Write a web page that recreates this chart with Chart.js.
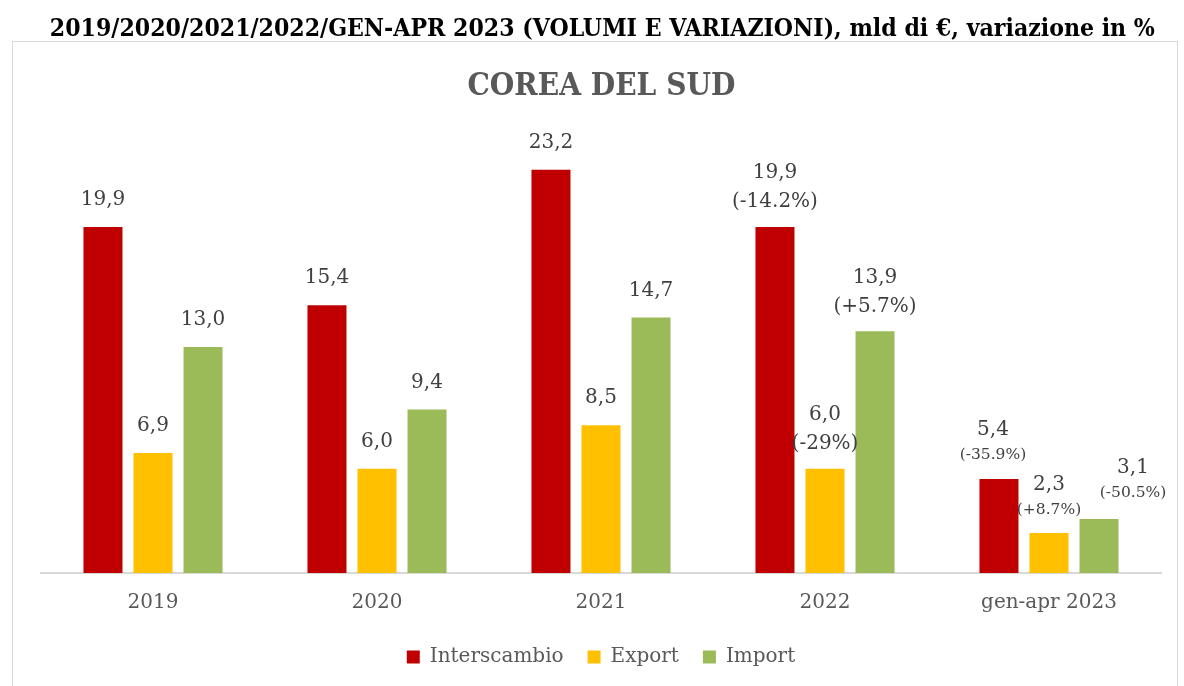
<!DOCTYPE html>
<html>
  <head>
    <title>Corea del Sud</title>
    <script src="https://cdn.jsdelivr.net/npm/chart.js@4.4.0/dist/chart.umd.min.js"></script>
    <style>
      body { margin: 0; background: #fff; width: 1184px; height: 686px; overflow: hidden; position: relative; }
      .head { position: absolute; left: 0; text-align: center; white-space: nowrap; z-index: 1; }
      .head span { display: inline-block; transform-origin: 50% 50%; }
      #title { top: 13px; width: 1204px; font: bold 25px 'DejaVu Serif Condensed', 'DejaVu Serif', serif; line-height: 30px; color: #000; }
      #sub { top: 64px; width: 1202px; font: bold 32px 'DejaVu Serif', serif; line-height: 40px; color: #595959; }
      #box { position: absolute; left: 12px; top: 41px; width: 1166px; height: 660px; border: 1px solid #d9d9d9; box-sizing: border-box; }
    </style>
  </head>

  <body>
    <div class="head" id="title"><span>2019/2020/2021/2022/GEN-APR 2023 (VOLUMI E VARIAZIONI), mld di €, variazione in %</span></div>
    <div class="head" id="sub"><span>COREA DEL SUD</span></div>
    <div id="box">
      <canvas id="canvas"></canvas>
    </div>
    <script>
      const years = ['2019', '2020', '2021', '2022', 'gen-apr 2023'];
      const interscambio = [19.9, 15.4, 23.2, 19.9, 5.4];
      const exportVals = [6.9, 6.0, 8.5, 6.0, 2.3];
      const importVals = [13.0, 9.4, 14.7, 13.9, 3.1];
      const interscambioVar = [null, null, null, '-14.2%', '-35.9%'];
      const exportVar = [null, null, null, '-29%', '+8.7%'];
      const importVar = [null, null, null, '+5.7%', '-50.5%'];

      // squeeze the headings to the width they take in the original
      function fitWidth(id, w) {
        const span = document.querySelector('#' + id + ' span');
        const cur = span.getBoundingClientRect().width;
        span.style.transform = 'scaleX(' + (w / cur) + ')';
      }
      fitWidth('title', 1105);
      fitWidth('sub', 268);

      // small hand nudges for labels that sit off-centre in the original
      const labelNudge = {
        '0:4': { dx: -6, dy: 1 },
        '2:4': { dx: 34, dy: 3 },
      };

      const fmt = (v) => v.toFixed(1).replace('.', ',');

      const valueLabels = {
        id: 'valueLabels',
        afterDatasetsDraw(chart) {
          const ctx = chart.ctx;
          ctx.save();
          ctx.fillStyle = '#404040';
          ctx.textAlign = 'center';
          ctx.textBaseline = 'middle';
          chart.data.datasets.forEach((ds, i) => {
            chart.getDatasetMeta(i).data.forEach((bar, j) => {
              const nudge = labelNudge[i + ':' + j] || { dx: 0, dy: 0 };
              const x = bar.x + nudge.dx;
              const pct = ds.variations[j];
              const last = j === ds.data.length - 1;
              ctx.font = '20px "DejaVu Serif"';
              if (!pct) {
                ctx.fillText(fmt(ds.data[j]), x, bar.y - 27);
                return;
              }
              const pctOff = (last ? 23 : 25) + nudge.dy;
              const valOff = (last ? 48 : 54) + nudge.dy;
              ctx.fillText(fmt(ds.data[j]), x, bar.y - valOff);
              ctx.font = (last ? '15.5px' : '20px') + ' "DejaVu Serif"';
              ctx.fillText('(' + pct + ')', x, bar.y - pctOff);
            });
          });
          ctx.restore();
        },
      };

      const ctx = document.getElementById('canvas').getContext('2d');
      const chart = new Chart(ctx, {
        type: 'bar',
        data: {
          labels: years,
          datasets: [
            { label: 'Interscambio', data: interscambio, variations: interscambioVar, backgroundColor: '#C00000' },
            { label: 'Export', data: exportVals, variations: exportVar, backgroundColor: '#FFC000' },
            { label: 'Import', data: importVals, variations: importVar, backgroundColor: '#9BBB59' },
          ],
        },
        options: {
          responsive: true,
          maintainAspectRatio: false,
          animation: false,
          categoryPercentage: 0.67,
          barPercentage: 0.78,
          layout: { padding: { top: 79, left: 28, right: 16, bottom: 23 } },
          plugins: {
            title: { display: false },
            tooltip: { enabled: false },
            legend: {
              position: 'bottom',
              labels: {
                boxWidth: 13,
                boxHeight: 13,
                padding: 24,
                color: '#595959',
                font: { family: 'DejaVu Serif', size: 20 },
              },
            },
          },
          scales: {
            x: {
              grid: { display: false, drawTicks: false },
              border: { color: '#d9d9d9', width: 2 },
              ticks: { color: '#595959', padding: 18, font: { family: 'DejaVu Serif', size: 20 } },
              afterFit(axis) { axis.height = 50; },
            },
            y: { display: false, min: 0, max: 26 },
          },
        },
        plugins: [valueLabels],
      });
    </script>
  </body>
</html>
